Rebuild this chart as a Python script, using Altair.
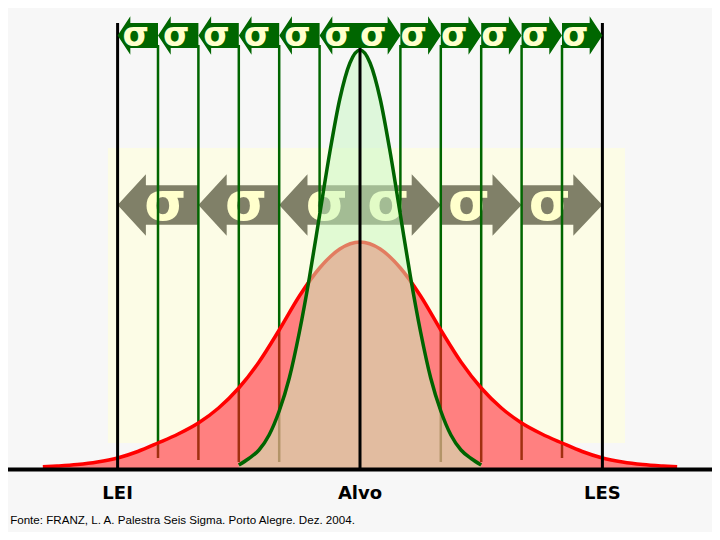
import altair as alt
import pandas as pd

# ---------------- data (x in units of the narrow sigma, Alvo = 0; h = height above baseline) ----------------
narrow_x = [-3.0, -2.75, -2.5, -2.25, -2.0, -1.75, -1.5, -1.25, -1.0, -0.75, -0.5, -0.25, 0.0,
            0.25, 0.5, 0.75, 1.0, 1.25, 1.5, 1.75, 2.0, 2.25, 2.5, 2.75, 3.0]
narrow_h = [3, 9.5, 18, 33, 57, 90, 136, 191, 253, 315, 369, 405, 418,
            405, 369, 315, 253, 191, 136, 90, 57, 33, 18, 9.5, 3]

wide_x = [-7.85, -7.5, -7.0, -6.5, -6.0, -5.5, -5.0, -4.5, -4.0, -3.5, -3.0, -2.5, -2.0, -1.5, -1.0, -0.5, 0.0,
          0.5, 1.0, 1.5, 2.0, 2.5, 3.0, 3.5, 4.0, 4.5, 5.0, 5.5, 6.0, 6.5, 7.0, 7.5, 7.85]
wide_h = [1.2, 2, 3.5, 6, 10, 16.5, 25, 34, 45, 60, 80, 106, 138, 172, 200, 219, 226,
          219, 200, 172, 138, 106, 80, 60, 45, 34, 25, 16.5, 10, 6, 3.5, 2, 1.2]

sigma_line_x = [-5, -4, -3, -2, -1, 1, 2, 3, 4, 5]
sigma_line_top = [423, 423, 423, 423, 423, 423, 423, 423, 423, 423]
sigma_line_split = [25, 45, 80, 138, 256, 256, 138, 80, 45, 25]
sigma_line_bottom = [10, 8, 6, 6, 256, 256, 6, 6, 8, 10]

spec_x = [-6, 0, 6]
spec_labels = ["LEI", "Alvo", "LES"]
spec_top = 445

top_arrow_left_x = [-5.5, -4.5, -3.5, -2.5, -1.5, -0.5]
top_arrow_right_x = [0.5, 1.5, 2.5, 3.5, 4.5, 5.5]
top_arrow_h = 432.5
top_sigma_left_x = [-5.55, -4.55, -3.55, -2.55, -1.55, -0.55]
top_sigma_right_x = [0.33, 1.33, 2.33, 3.33, 4.33, 5.33]
top_sigma_h = 422

gray_arrow_left_x = [-5, -3, -1]
gray_arrow_right_x = [1, 3, 5]
gray_arrow_h = 263
gray_sigma_left_x = [-4.82, -2.82, -0.82]
gray_sigma_right_x = [0.7, 2.7, 4.7]
gray_sigma_h = 248

panel_x = [-6.24]
panel_x2 = [6.56]
panel_h = [320]
panel_h2 = [25]

footer = "Fonte: FRANZ, L. A. Palestra Seis Sigma. Porto Alegre. Dez. 2004."

# ---------------- scales ----------------
XS = alt.Scale(domain=[-8.7129, 8.7129], nice=False, zero=False)
YS = alt.Scale(domain=[-64, 460], nice=False, zero=False)


def X(f="x"):
    return alt.X(f, type="quantitative", scale=XS, axis=None)


def Y(f="y"):
    return alt.Y(f, type="quantitative", scale=YS, axis=None)


narrow = pd.DataFrame({"x": narrow_x, "y": narrow_h})
wide = pd.DataFrame({"x": wide_x, "y": wide_h})

panel = alt.Chart(pd.DataFrame({"x": panel_x, "x2": panel_x2, "y": panel_h, "y2": panel_h2})).mark_rect(
    color="#fcfce6").encode(x=X(), x2="x2", y=Y(), y2="y2")

LEFT_SMALL = "M -1 0 L -0.37 -0.95 L -0.37 -0.62 L 1 -0.62 L 1 0.62 L -0.37 0.62 L -0.37 0.95 Z"
RIGHT_SMALL = "M 1 0 L 0.37 -0.95 L 0.37 -0.62 L -1 -0.62 L -1 0.62 L 0.37 0.62 L 0.37 0.95 Z"
LEFT_BIG = "M -1 0 L -0.3 -0.76 L -0.3 -0.49 L 1 -0.49 L 1 0.49 L -0.3 0.49 L -0.3 0.76 Z"
RIGHT_BIG = "M 1 0 L 0.28 -0.76 L 0.28 -0.49 L -1 -0.49 L -1 0.49 L 0.28 0.49 L 0.28 0.76 Z"


def arrows(xs, h, shape, size, color):
    df = pd.DataFrame({"x": xs, "y": [h] * len(xs)})
    return alt.Chart(df).mark_point(shape=shape, size=size, filled=True, fill=color, opacity=1,
                                    strokeWidth=0).encode(x=X(), y=Y())


def sigmas(xs, h, fs):
    df = pd.DataFrame({"x": xs, "y": [h] * len(xs), "t": ["σ"] * len(xs)})
    return alt.Chart(df).mark_text(font="DejaVu Sans", fontWeight="bold", fontSize=fs, color="#ffffcc",
                                   align="center", baseline="alphabetic").encode(x=X(), y=Y(), text="t:N")


gray_l = arrows(gray_arrow_left_x, gray_arrow_h, LEFT_BIG, 6529, "#808068")
gray_r = arrows(gray_arrow_right_x, gray_arrow_h, RIGHT_BIG, 6529, "#808068")
gray_s = sigmas(gray_sigma_left_x + gray_sigma_right_x, gray_sigma_h, 54)

red_area = alt.Chart(wide).mark_area(color="#ff8080", interpolate="monotone").encode(
    x=X(), y=Y(), y2=alt.datum(0))

lines_df = pd.DataFrame({"x": sigma_line_x, "top": sigma_line_top, "split": sigma_line_split,
                         "bottom": sigma_line_bottom})
green_rules = alt.Chart(lines_df).mark_rule(color="#006600", strokeWidth=2.5).encode(
    x=X(), y=Y("top"), y2="split")
brown_rules = alt.Chart(lines_df).transform_filter("datum.split > datum.bottom").mark_rule(
    color="#a03010", strokeWidth=2.5).encode(x=X(), y=Y("split"), y2="bottom")

red_line = alt.Chart(wide).mark_line(color="#ff0000", strokeWidth=3.5, interpolate="monotone").encode(
    x=X(), y=Y())

green_area = alt.Chart(narrow).mark_area(color="#c5f8c0", opacity=0.5, interpolate="monotone").encode(
    x=X(), y=Y(), y2=alt.datum(0))
green_line = alt.Chart(narrow).mark_line(color="#006400", strokeWidth=3.5, interpolate="monotone").encode(
    x=X(), y=Y())

spec_df = pd.DataFrame({"x": spec_x, "top": [spec_top] * 3, "bot": [0] * 3, "lab": spec_labels,
                        "ly": [-26] * 3})
spec_rules = alt.Chart(spec_df).mark_rule(color="black", strokeWidth=3).encode(x=X(), y=Y("top"), y2="bot")
base_rule = alt.Chart(pd.DataFrame({"x": [-8.72], "x2": [8.72], "y": [-1.5]})).mark_rule(
    color="black", strokeWidth=4).encode(x=X(), x2="x2", y=Y())

top_l = arrows(top_arrow_left_x, top_arrow_h, LEFT_SMALL, 1632, "#006600")
top_r = arrows(top_arrow_right_x, top_arrow_h, RIGHT_SMALL, 1632, "#006600")
top_s = sigmas(top_sigma_left_x + top_sigma_right_x, top_sigma_h, 34)

spec_text = alt.Chart(spec_df).mark_text(font="DejaVu Sans", fontWeight="bold", fontSize=18, color="black",
                                         align="center", baseline="middle").encode(x=X(), y=Y("ly"), text="lab:N")
foot = alt.Chart(pd.DataFrame({"x": [-8.66], "y": [-53], "t": [footer]})).mark_text(
    font="Liberation Sans", fontSize=11.6, color="black", align="left", baseline="middle").encode(
    x=X(), y=Y(), text="t:N")

chart = alt.layer(
    panel, gray_l, gray_r, gray_s, red_area, green_rules, brown_rules, red_line,
    green_area, green_line, spec_rules, base_rule, top_l, top_r, top_s, spec_text, foot
).properties(width=704, height=524, autosize="none", padding=0, background="#f7f7f7").configure_view(
    stroke=None)

chart.save("out.html", embed_options={"renderer": "svg", "actions": False})
